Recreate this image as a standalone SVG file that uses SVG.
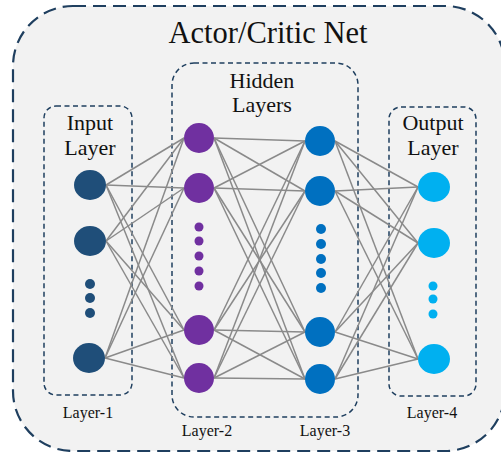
<svg xmlns="http://www.w3.org/2000/svg" width="501" height="452" viewBox="0 0 501 452">
<style>
.frame{fill:none;stroke:#1F3F5F;stroke-width:1.5;stroke-dasharray:5 3.5}
.outer{fill:#F2F2F2;stroke:#1F3F5F;stroke-width:2.2;stroke-dasharray:13 7}
text{font-family:"Liberation Serif","Times New Roman",serif;fill:#111;text-anchor:middle}
.l1{fill:#1F4E79}.l2{fill:#7030A0}.l3{fill:#0070C0}.l4{fill:#00B0F0}
#connectors line{stroke:#8A8A8A;stroke-width:1.5}
</style>
<rect width="501" height="452" fill="#FFFFFF"/>
<g id="outer-box">
<rect class="outer" x="13" y="6" width="492" height="445" rx="60"/>
<text x="268" y="43" font-size="30.5">Actor/Critic Net</text>
</g>
<g id="input-box">
<rect class="frame" x="44" y="106" width="88" height="289" rx="12"/>
<text x="90" y="130" font-size="22">Input</text>
<text x="90" y="155" font-size="22">Layer</text>
</g>
<g id="hidden-box">
<rect class="frame" x="172" y="63" width="186" height="354" rx="22"/>
<text x="262" y="88" font-size="22">Hidden</text>
<text x="262" y="112" font-size="22">Layers</text>
</g>
<g id="output-box">
<rect class="frame" x="389" y="107" width="87" height="289" rx="12"/>
<text x="433" y="130" font-size="22">Output</text>
<text x="433" y="155" font-size="22">Layer</text>
</g>
<g id="connectors">
<line x1="106" y1="185" x2="184" y2="138"/><line x1="106" y1="185" x2="184" y2="188"/><line x1="106" y1="185" x2="184" y2="330"/><line x1="106" y1="185" x2="184" y2="378"/>
<line x1="106" y1="241" x2="184" y2="138"/><line x1="106" y1="241" x2="184" y2="188"/><line x1="106" y1="241" x2="184" y2="330"/><line x1="106" y1="241" x2="184" y2="378"/>
<line x1="105" y1="358" x2="184" y2="138"/><line x1="105" y1="358" x2="184" y2="188"/><line x1="105" y1="358" x2="184" y2="330"/><line x1="105" y1="358" x2="184" y2="378"/>
<line x1="214" y1="138" x2="305" y2="141"/><line x1="214" y1="138" x2="305" y2="191"/><line x1="214" y1="138" x2="305" y2="332"/><line x1="214" y1="138" x2="305" y2="379"/>
<line x1="214" y1="188" x2="305" y2="141"/><line x1="214" y1="188" x2="305" y2="191"/><line x1="214" y1="188" x2="305" y2="332"/><line x1="214" y1="188" x2="305" y2="379"/>
<line x1="214" y1="330" x2="305" y2="141"/><line x1="214" y1="330" x2="305" y2="191"/><line x1="214" y1="330" x2="305" y2="332"/><line x1="214" y1="330" x2="305" y2="379"/>
<line x1="214" y1="378" x2="305" y2="141"/><line x1="214" y1="378" x2="305" y2="191"/><line x1="214" y1="378" x2="305" y2="332"/><line x1="214" y1="378" x2="305" y2="379"/>
<line x1="335" y1="141" x2="418" y2="187"/><line x1="335" y1="141" x2="418" y2="243"/><line x1="335" y1="141" x2="418" y2="359"/>
<line x1="335" y1="191" x2="418" y2="187"/><line x1="335" y1="191" x2="418" y2="243"/><line x1="335" y1="191" x2="418" y2="359"/>
<line x1="335" y1="332" x2="418" y2="187"/><line x1="335" y1="332" x2="418" y2="243"/><line x1="335" y1="332" x2="418" y2="359"/>
<line x1="335" y1="379" x2="418" y2="187"/><line x1="335" y1="379" x2="418" y2="243"/><line x1="335" y1="379" x2="418" y2="359"/>
</g>
<g id="layer-1">
<ellipse class="l1" cx="90" cy="185" rx="16" ry="15"/>
<ellipse class="l1" cx="90" cy="241" rx="16" ry="15"/>
<circle class="l1" cx="90" cy="284" r="5"/><circle class="l1" cx="90" cy="298" r="5"/><circle class="l1" cx="90" cy="313" r="5"/>
<ellipse class="l1" cx="89" cy="358" rx="16" ry="15"/>
<text x="88" y="418" font-size="16">Layer-1</text>
</g>
<g id="layer-2">
<circle class="l2" cx="199" cy="138" r="15"/>
<circle class="l2" cx="199" cy="188" r="15"/>
<circle class="l2" cx="199" cy="227" r="4.5"/><circle class="l2" cx="199" cy="241" r="4.5"/><circle class="l2" cx="199" cy="256" r="4.5"/><circle class="l2" cx="199" cy="271" r="4.5"/><circle class="l2" cx="199" cy="286" r="4.5"/>
<circle class="l2" cx="199" cy="330" r="15"/>
<circle class="l2" cx="199" cy="378" r="15"/>
<text x="207" y="436" font-size="16">Layer-2</text>
</g>
<g id="layer-3">
<circle class="l3" cx="320" cy="141" r="15"/>
<circle class="l3" cx="320" cy="191" r="15"/>
<circle class="l3" cx="321" cy="229" r="5"/><circle class="l3" cx="321" cy="244" r="5"/><circle class="l3" cx="321" cy="259" r="5"/><circle class="l3" cx="321" cy="273" r="5"/><circle class="l3" cx="321" cy="288" r="5"/>
<circle class="l3" cx="320" cy="332" r="15"/>
<circle class="l3" cx="320" cy="379" r="15"/>
<text x="325" y="436" font-size="16">Layer-3</text>
</g>
<g id="layer-4">
<ellipse class="l4" cx="434" cy="187" rx="16" ry="15"/>
<ellipse class="l4" cx="434" cy="243" rx="16" ry="15"/>
<circle class="l4" cx="433" cy="286" r="4.5"/><circle class="l4" cx="433" cy="299" r="4.5"/><circle class="l4" cx="433" cy="314" r="4.5"/>
<ellipse class="l4" cx="434" cy="359" rx="16" ry="15"/>
<text x="432" y="418" font-size="16">Layer-4</text>
</g>
</svg>
